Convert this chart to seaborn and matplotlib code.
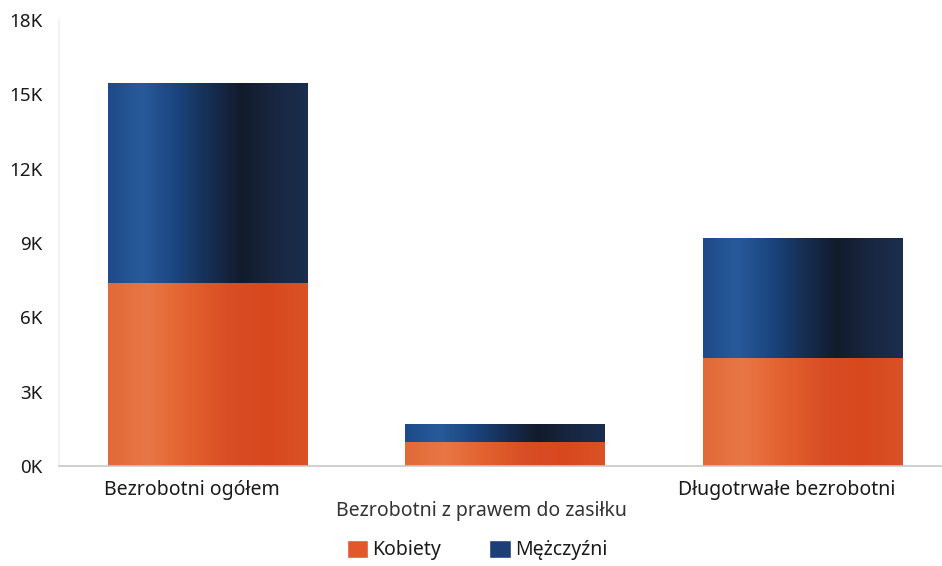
import numpy as np
import pandas as pd
import matplotlib
matplotlib.use("Agg")
import matplotlib.pyplot as plt
import matplotlib.transforms as mtransforms
from matplotlib.colors import LinearSegmentedColormap
from matplotlib.patches import Patch
import seaborn as sns

categories = ["Bezrobotni ogółem", "Bezrobotni z prawem do zasiłku", "Długotrwałe bezrobotni"]
kobiety = [7400, 950, 4350]
mezczyzni = [8050, 750, 4850]
series_names = ["Kobiety", "Mężczyźni"]
yticks = [0, 3000, 6000, 9000, 12000, 15000, 18000]
ytick_labels = ["0K", "3K", "6K", "9K", "12K", "15K", "18K"]

sns.set_theme(style="white")
plt.rcParams['font.family'] = ['Noto Sans', 'DejaVu Sans']

fig = plt.figure(figsize=(9.42, 5.66), dpi=100)
ax = fig.add_axes([59/942, 100/566, (942-59)/942, (466-20)/566])

totals = [k + m for k, m in zip(kobiety, mezczyzni)]
df_tot = pd.DataFrame({"cat": categories, "val": totals})
df_k = pd.DataFrame({"cat": categories, "val": kobiety})

sns.barplot(data=df_tot, x="cat", y="val", color="#1c3f78", width=0.67, ax=ax, saturation=1)
sns.barplot(data=df_k, x="cat", y="val", color="#e2572c", width=0.67, ax=ax, saturation=1)

orange_cmap = LinearSegmentedColormap.from_list("o", ["#e06a38", "#e87745", "#e2612f", "#d94e25", "#d8481f", "#da5226"])
blue_cmap = LinearSegmentedColormap.from_list("b", ["#1d4a88", "#285a9a", "#1b4680", "#162f55", "#121b2b", "#182640", "#1b2e4f"])

n = len(categories)
for i, p in enumerate(ax.patches):
    x0, y0 = p.get_x(), p.get_y()
    w, h = p.get_width(), p.get_height()
    cmap = blue_cmap if i < n else orange_cmap
    grad = np.linspace(0, 1, 256).reshape(1, -1)
    im = ax.imshow(grad, cmap=cmap, aspect="auto", extent=[x0, x0 + w, y0, y0 + h],
                   origin="lower", zorder=p.get_zorder() + 0.1)
    im.set_clip_path(p)
    p.set_edgecolor("none")

ax.set_xlim(-0.5, 2.47)
ax.set_ylim(0, 18000)
ax.set_yticks(yticks)
ax.set_yticklabels(ytick_labels)
ax.set_xlabel("")
ax.set_ylabel("")
ax.tick_params(axis="y", labelsize=13.5, colors="#1a1a1a", length=0, pad=12)
ax.tick_params(axis="x", labelsize=14, colors="#1a1a1a", length=0, pad=10)
labels = ax.get_xticklabels()
for j, lab in enumerate(labels):
    off = -24 if j == 1 else -16
    dy = -21 if j == 1 else 0
    lab.set_transform(lab.get_transform() + mtransforms.ScaledTranslation(off/100, dy/100, fig.dpi_scale_trans))
    if j == 1:
        lab.set_color("#333333")
for s in ["top", "right"]:
    ax.spines[s].set_visible(False)
ax.spines["left"].set_color("#f0f0f0")
ax.spines["bottom"].set_color("#c8c8c8")
ax.spines["bottom"].set_linewidth(1.2)

handles = [Patch(facecolor="#e2572c", label=series_names[0]),
           Patch(facecolor="#1c3f78", label=series_names[1])]
fig.legend(handles=handles, loc="center", bbox_to_anchor=(477/942, 1 - 550/566), ncol=2,
           frameon=False, fontsize=14, handlelength=1.1, handleheight=1.1,
           handletextpad=0.2, columnspacing=2.5, labelcolor="#1a1a1a")

fig.savefig("out.png", dpi=100)
